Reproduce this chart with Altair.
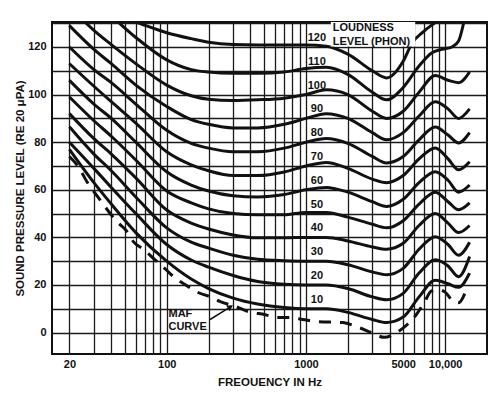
import altair as alt
import pandas as pd

# ---- data ----
FREQ = [20, 30, 40, 60, 100, 150, 200, 300, 450, 700, 1000, 1400, 2000, 3000, 3800, 5000, 6500, 8500, 10500, 12500, 15000]
PHON_10 = [77, 63, 54, 42, 30, 22.5, 18.5, 14.5, 12, 10.5, 10, 10, 8.5, 5.5, 4.2, 6.5, 15, 22, 20.5, 19, 25]
PHON_20 = [80, 69, 61, 50, 37, 30.5, 27.5, 24, 21.5, 20.3, 20, 20, 18.5, 15, 13.8, 16.5, 25, 30.6, 28, 23.5, 32]
PHON_30 = [86.5, 75, 68, 57, 44, 38, 35.5, 32.5, 30.8, 30.2, 30, 30, 28.5, 25.5, 24.3, 27, 35, 40.3, 37, 32.5, 38]
PHON_40 = [92, 81.5, 75, 65, 51.5, 46, 43.5, 41, 39.8, 39.8, 40, 40, 38.5, 36, 35, 37.5, 45, 50, 46, 42, 45]
PHON_50 = [99, 89, 82.5, 72.5, 59.5, 54.5, 52, 50, 49.5, 49.5, 50.5, 50.5, 48.5, 45.5, 44, 47, 54, 59, 55, 51.6, 54.5]
PHON_60 = [106, 96, 90, 80, 67.6, 62, 59.5, 57.5, 57, 58, 60, 61, 59, 55, 53, 56, 63, 67.6, 64, 59, 62]
PHON_70 = [113, 103.5, 97, 88, 76, 70.5, 68, 66, 66, 67.5, 70, 71.5, 69, 64.5, 63, 66, 73, 77.6, 73, 68.4, 71.8]
PHON_80 = [120, 110.5, 105, 96, 85, 79.5, 77.5, 76, 76, 77.5, 80, 81.5, 79.5, 74, 71.3, 74, 81, 86.4, 83, 79.7, 84]
PHON_90 = [129, 119, 113, 104, 95, 89.5, 87.5, 86, 86, 87.5, 90, 92, 90, 84, 81, 84, 91, 97, 94, 90, 94]
PHON_100 = [137, 127, 121, 113, 104, 99.5, 98, 97.5, 97.8, 98.5, 100, 102, 100, 93, 90, 93, 101, 108, 106, 105, 109.5]

FREQ_110 = [20, 30, 40, 60, 100, 150, 200, 300, 450, 700, 1000, 1400, 2000, 3000, 3800, 5000, 6500, 8000, 9500, 11200, 12500, 13700, 14500]
PHON_110 = [148, 139, 133, 124, 114.6, 110.5, 109.5, 109, 109, 109.5, 111, 111.5, 108.5, 101, 97.8, 103, 112, 117.5, 119, 120, 122.5, 131, 138]

FREQ_120 = [40, 60, 100, 150, 200, 300, 450, 700, 1000, 1400, 2000, 3000, 3800, 5000, 5800, 7000, 9000, 10000]
PHON_120 = [134, 130.5, 126, 123.5, 122, 121, 120.8, 120.8, 120.8, 120.3, 117, 110, 107, 114, 121.7, 126.5, 131.5, 134]

FREQ_MAF = [20, 23, 27, 32, 45, 51, 58, 68, 81, 99, 112, 137, 166, 206, 243, 311, 385, 510, 620, 770, 950,
            1200, 1840, 2430, 2960, 3660, 4470, 5350, 6200, 7070, 8000, 9000, 10000, 11500, 12500, 14000]
DB_MAF = [74, 70, 63, 57, 46, 43, 38, 35, 31, 26.4, 23.5, 20, 17, 15, 13, 11, 8.8, 7.5, 6.3, 6.3, 5.5,
          4.6, 4.2, 2, 0, -2, 0, 3.4, 7.5, 12.6, 17.5, 18, 17, 13, 12.5, 17]

PHON_LEVELS = [10, 20, 30, 40, 50, 60, 70, 80, 90, 100, 110, 120]
LABEL_FREQ = 1200
LABEL_OFFSET = 3.8

X_GRID = [20, 30, 40, 50, 60, 70, 80, 90, 100, 200, 300, 400, 500, 600, 700, 800, 900,
          1000, 2000, 3000, 4000, 5000, 6000, 7000, 8000, 9000, 10000]
Y_GRID = [0, 10, 20, 30, 40, 50, 60, 70, 80, 90, 100, 110, 120, 130]

FONT = "Liberation Sans"

# ---- build tables ----
rows = []
series = [PHON_10, PHON_20, PHON_30, PHON_40, PHON_50, PHON_60, PHON_70, PHON_80, PHON_90, PHON_100]
for lvl, vals in zip(PHON_LEVELS[:10], series):
    for f, v in zip(FREQ, vals):
        rows.append({"curve": str(lvl), "freq": f, "db": v})
for f, v in zip(FREQ_110, PHON_110):
    rows.append({"curve": "110", "freq": f, "db": v})
for f, v in zip(FREQ_120, PHON_120):
    rows.append({"curve": "120", "freq": f, "db": v})
curves = pd.DataFrame(rows)
maf = pd.DataFrame({"freq": FREQ_MAF, "db": DB_MAF})

labels = pd.DataFrame({"label": [str(p) for p in PHON_LEVELS],
                       "freq": [LABEL_FREQ] * len(PHON_LEVELS),
                       "db": [p + LABEL_OFFSET for p in PHON_LEVELS]})

xscale = alt.Scale(type="log", domain=[15, 20000])
yscale = alt.Scale(domain=[-9, 130.5])

x_lab_expr = ("indexof([20,100,1000,5000], datum.value) >= 0 ? '' + datum.value : "
              "(datum.value == 10000 ? '10,000' : '')")
y_lab_expr = "(datum.value % 20 == 0 && datum.value <= 120) ? '' + datum.value : ''"

XAXIS = alt.Axis(values=X_GRID, labelExpr=x_lab_expr, title="FREQUENCY IN Hz",
                 grid=True, gridColor="#1a1a1a", gridWidth=1.3, gridOpacity=1,
                 ticks=False, tickSize=0, domain=False, labelPadding=4,
                 labelFont=FONT, labelFontWeight="bold", labelFontSize=11, labelColor="#111",
                 labelOverlap=False, labelFlush=False,
                 titleFont=FONT, titleFontWeight="bold", titleFontSize=11.5, titleColor="#111",
                 titleX=217.5, titleY=28, titleBaseline="middle")
YAXIS = alt.Axis(values=Y_GRID, labelExpr=y_lab_expr,
                 title="SOUND PRESSURE LEVEL (RE 20 \u03bcPA)",
                 grid=True, gridColor="#1a1a1a", gridWidth=1.3, gridOpacity=1,
                 ticks=False, tickSize=0, domain=False, labelPadding=6,
                 labelFont=FONT, labelFontWeight="bold", labelFontSize=11, labelColor="#111",
                 labelOverlap=False, labelFlush=False,
                 titleFont=FONT, titleFontWeight="bold", titleFontSize=11.5, titleColor="#111",
                 titleAngle=270, titleX=-32, titleY=166, titleAlign="center",
                 titleBaseline="middle")


def X(field):
    return alt.X(field, scale=xscale, axis=XAXIS)


def Y(field):
    return alt.Y(field, scale=yscale, axis=YAXIS)


lines = alt.Chart(curves).mark_line(clip=True, interpolate="monotone", color="#111",
                                    strokeWidth=3).encode(
    x=X("freq:Q"), y=Y("db:Q"), detail="curve:N", order="freq:Q")

maf_line = alt.Chart(maf).mark_line(clip=True, interpolate="monotone", color="#111",
                                    strokeWidth=3, strokeDash=[12, 9]).encode(
    x=X("freq:Q"), y=Y("db:Q"), order="freq:Q")

# label knock-out box for "LOUDNESS LEVEL (PHON)"
box = pd.DataFrame({"freq": [1510], "f2": [6100], "db": [120.2], "d2": [130.5]})
box_mark = alt.Chart(box).mark_rect(color="white").encode(
    x=X("freq:Q"), x2="f2:Q", y=Y("db:Q"), y2="d2:Q")

text_style = dict(font=FONT, fontWeight="bold", fontSize=11, color="#111")
curve_labels = alt.Chart(labels).mark_text(align="center", baseline="middle", **text_style).encode(
    x=X("freq:Q"), y=Y("db:Q"), text="label:N")

notes = pd.DataFrame({"text": ["LOUDNESS", "LEVEL (PHON)", "MAF", "CURVE"],
                      "freq": [1560, 1560, 103, 103],
                      "db": [128, 122.2, 8, 2.5]})
note_marks = alt.Chart(notes).mark_text(align="left", baseline="middle", **text_style).encode(
    x=X("freq:Q"), y=Y("db:Q"), text="text:N")

arrow = pd.DataFrame({"freq": [205], "f2": [287], "db": [5.5], "d2": [10.8]})
arrow_line = alt.Chart(arrow).mark_rule(color="#111", strokeWidth=1.5).encode(
    x=X("freq:Q"), x2="f2:Q", y=Y("db:Q"), y2="d2:Q")
arrow_head = alt.Chart(arrow).mark_point(shape="triangle-right", filled=True, color="#111",
                                         size=45, angle=328, opacity=1).encode(
    x=X("f2:Q"), y=Y("d2:Q"))

chart = alt.layer(lines, maf_line, box_mark, curve_labels, note_marks, arrow_line, arrow_head).properties(
    width=435, height=332,
    autosize=alt.AutoSizeParams(type="none"),
    padding={"left": 44, "top": 14, "right": 5, "bottom": 32},
    background="white",
).configure_view(stroke="#111", strokeWidth=2)

chart.save("out.html", embed_options={"renderer": "svg", "actions": False})
